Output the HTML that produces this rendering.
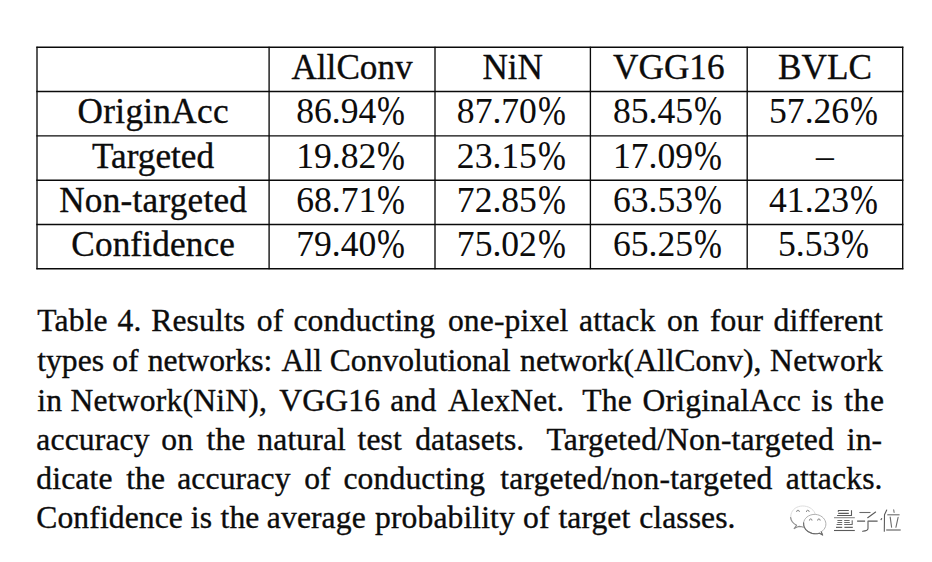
<!DOCTYPE html>
<html>
<head>
<meta charset="utf-8">
<style>
html,body{margin:0;padding:0;background:#fff;}
body{width:932px;height:562px;position:relative;overflow:hidden;font-family:"Liberation Serif",serif;color:#0c0c0c;-webkit-text-stroke:0.35px #0c0c0c;}
.c{position:absolute;text-align:center;white-space:nowrap;font-size:35.20px;line-height:44.00px;height:44.00px;}
.d{font-size:35.60px;-webkit-text-stroke-width:0.06px;}
.p{display:inline-block;transform-origin:50% 21.9px;transform:translateY(-0.4px) scale(0.94,1.21);}
.cap{position:absolute;left:0;width:932px;font-size:31.60px;line-height:39.40px;height:39.40px;white-space:nowrap;}
.cap .w{position:absolute;top:0;}
</style>
</head>
<body>
<svg style="position:absolute;left:0;top:0" width="932" height="300" viewBox="0 0 932 300" stroke="#0a0a0a" stroke-width="1.35" fill="none">
<line x1="36.33" y1="47.20" x2="903.38" y2="47.20"/>
<line x1="36.33" y1="91.50" x2="903.38" y2="91.50"/>
<line x1="36.33" y1="135.85" x2="903.38" y2="135.85"/>
<line x1="36.33" y1="180.20" x2="903.38" y2="180.20"/>
<line x1="36.33" y1="224.45" x2="903.38" y2="224.45"/>
<line x1="36.33" y1="268.70" x2="903.38" y2="268.70"/>
<line x1="37.00" y1="46.73" x2="37.00" y2="269.18"/>
<line x1="269.10" y1="46.73" x2="269.10" y2="269.18"/>
<line x1="435.00" y1="46.73" x2="435.00" y2="269.18"/>
<line x1="590.40" y1="46.73" x2="590.40" y2="269.18"/>
<line x1="747.20" y1="46.73" x2="747.20" y2="269.18"/>
<line x1="902.70" y1="46.73" x2="902.70" y2="269.18"/>
</svg>
<div class="c" style="left:269.10px;width:165.90px;top:46.00px">AllConv</div>
<div class="c" style="left:435.00px;width:155.40px;top:46.00px">NiN</div>
<div class="c" style="left:590.40px;width:156.80px;top:46.00px">VGG16</div>
<div class="c" style="left:747.20px;width:155.50px;top:46.00px">BVLC</div>
<div class="c" style="left:37.00px;width:232.10px;top:90.00px;letter-spacing:0.30px;text-indent:0.30px">OriginAcc</div>
<div class="c d" style="left:268.10px;width:165.90px;top:89.00px">86.94<span class="p">%</span></div>
<div class="c d" style="left:434.00px;width:155.40px;top:89.00px">87.70<span class="p">%</span></div>
<div class="c d" style="left:589.40px;width:156.80px;top:89.00px">85.45<span class="p">%</span></div>
<div class="c d" style="left:746.20px;width:155.50px;top:89.00px">57.26<span class="p">%</span></div>
<div class="c" style="left:37.00px;width:232.10px;top:135.00px">Targeted</div>
<div class="c d" style="left:268.10px;width:165.90px;top:134.00px">19.82<span class="p">%</span></div>
<div class="c d" style="left:434.00px;width:155.40px;top:134.00px">23.15<span class="p">%</span></div>
<div class="c d" style="left:589.40px;width:156.80px;top:134.00px">17.09<span class="p">%</span></div>
<div class="c d" style="left:747.20px;width:155.50px;top:134.00px">–</div>
<div class="c" style="left:37.00px;width:232.10px;top:179.00px;letter-spacing:0.25px;text-indent:0.25px">Non-targeted</div>
<div class="c d" style="left:268.10px;width:165.90px;top:178.00px">68.71<span class="p">%</span></div>
<div class="c d" style="left:434.00px;width:155.40px;top:178.00px">72.85<span class="p">%</span></div>
<div class="c d" style="left:589.40px;width:156.80px;top:178.00px">63.53<span class="p">%</span></div>
<div class="c d" style="left:746.20px;width:155.50px;top:178.00px">41.23<span class="p">%</span></div>
<div class="c" style="left:37.00px;width:232.10px;top:223.00px;letter-spacing:0.15px;text-indent:0.15px">Confidence</div>
<div class="c d" style="left:268.10px;width:165.90px;top:222.00px">79.40<span class="p">%</span></div>
<div class="c d" style="left:434.00px;width:155.40px;top:222.00px">75.02<span class="p">%</span></div>
<div class="c d" style="left:589.40px;width:156.80px;top:222.00px">65.25<span class="p">%</span></div>
<div class="c d" style="left:746.20px;width:155.50px;top:222.00px">5.53<span class="p">%</span></div>
<div class="cap" style="top:301.00px"><span class="w" style="left:37.30px;letter-spacing:0.15px">Table</span> <span class="w" style="left:117.53px;letter-spacing:0.15px">4.</span> <span class="w" style="left:151.18px;letter-spacing:0.15px">Results</span> <span class="w" style="left:256.83px;letter-spacing:0.15px">of</span> <span class="w" style="left:293.38px;letter-spacing:0.15px">conducting</span> <span class="w" style="left:447.88px;letter-spacing:0.15px">one-pixel</span> <span class="w" style="left:579.06px;letter-spacing:0.15px">attack</span> <span class="w" style="left:666.98px;letter-spacing:0.15px">on</span> <span class="w" style="left:709.92px;letter-spacing:0.15px">four</span> <span class="w" style="left:773.49px;letter-spacing:0.15px">different</span></div>
<div class="cap" style="top:341.00px"><span class="w" style="left:37.30px;letter-spacing:0.00px">types</span> <span class="w" style="left:112.25px;letter-spacing:0.00px">of</span> <span class="w" style="left:147.74px;letter-spacing:0.00px">networks:</span> <span class="w" style="left:281.60px;letter-spacing:0.00px">All</span> <span class="w" style="left:329.80px;letter-spacing:0.00px">Convolutional</span> <span class="w" style="left:520.10px;letter-spacing:0.00px">network(AllConv),</span> <span class="w" style="left:769.95px;letter-spacing:0.40px">Network</span></div>
<div class="cap" style="top:381.00px"><span class="w" style="left:37.30px;letter-spacing:0.20px">in</span> <span class="w" style="left:70.60px;letter-spacing:0.20px">Network(NiN),</span> <span class="w" style="left:279.13px;letter-spacing:0.20px">VGG16</span> <span class="w" style="left:390.24px;letter-spacing:0.20px">and</span> <span class="w" style="left:447.94px;letter-spacing:0.20px">AlexNet.</span> <span class="w" style="left:582.30px;letter-spacing:0.20px">The</span> <span class="w" style="left:642.59px;letter-spacing:0.20px">OriginalAcc</span> <span class="w" style="left:811.41px;letter-spacing:0.20px">is</span> <span class="w" style="left:844.13px;letter-spacing:0.70px">the</span></div>
<div class="cap" style="top:420.00px"><span class="w" style="left:36.30px;letter-spacing:0.15px">accuracy</span> <span class="w" style="left:161.23px;letter-spacing:0.15px">on</span> <span class="w" style="left:206.51px;letter-spacing:0.15px">the</span> <span class="w" style="left:257.28px;letter-spacing:0.15px">natural</span> <span class="w" style="left:357.48px;letter-spacing:0.15px">test</span> <span class="w" style="left:415.14px;letter-spacing:0.15px">datasets.</span> <span class="w" style="left:546.47px;letter-spacing:0.15px">Targeted/Non-targeted</span> <span class="w" style="left:846.73px;letter-spacing:0.15px">in-</span></div>
<div class="cap" style="top:459.00px"><span class="w" style="left:36.30px;letter-spacing:0.15px">dicate</span> <span class="w" style="left:126.16px;letter-spacing:0.15px">the</span> <span class="w" style="left:177.16px;letter-spacing:0.15px">accuracy</span> <span class="w" style="left:304.13px;letter-spacing:0.15px">of</span> <span class="w" style="left:343.38px;letter-spacing:0.15px">conducting</span> <span class="w" style="left:500.34px;letter-spacing:0.15px">targeted/non-targeted</span> <span class="w" style="left:785.83px;letter-spacing:0.15px">attacks.</span></div>
<div class="cap" style="top:498.00px"><span class="w" style="left:36.30px;letter-spacing:0.10px">Confidence</span> <span class="w" style="left:190.86px;letter-spacing:0.10px">is</span> <span class="w" style="left:220.51px;letter-spacing:0.10px">the</span> <span class="w" style="left:266.86px;letter-spacing:0.10px">average</span> <span class="w" style="left:375.08px;letter-spacing:0.10px">probability</span> <span class="w" style="left:523.00px;letter-spacing:0.10px">of</span> <span class="w" style="left:558.41px;letter-spacing:0.10px">target</span> <span class="w" style="left:639.18px;letter-spacing:0.10px">classes.</span></div>
<svg style="position:absolute;left:780px;top:495px" width="140" height="50" viewBox="780 495 140 50" fill="none" stroke-linecap="round" stroke-linejoin="round">
<!-- back bubble -->
<path d="M794.2 528.6 L796.6 525.2 C791.5 522.2 789.6 517.2 791.6 512.6 C793.6 507.9 799 505.4 804.6 506.1 C810 506.8 814.3 510 815.3 514.3" stroke="#dedede" stroke-width="1"/>
<path d="M790.6 517.5 C790.9 520.6 792.9 523.4 796.6 525.3 L794.2 528.6 C796.2 527.4 797.8 526.5 799.2 526.4 C800.6 526.5 802 527 803.4 527.2" stroke="#8a8a8a" stroke-width="1.1"/>
<path d="M796.6 511.6 a1.4 1.4 0 0 1 2.8 0 M806.4 511.6 a1.4 1.4 0 0 1 2.8 0" stroke="#8e8e8e" stroke-width="1"/>
<!-- front bubble -->
<path d="M822.6 534.9 L821.2 531.8 C825.6 529 826.9 524.5 825.1 520.6 C823.3 516.6 818.8 514.2 814 514.4 C808.6 514.7 804.2 518.2 803.6 522.8 C803 527.6 806.6 532 812 533.4 C814.6 534 817.2 533.9 819.4 533.2 Z" fill="#fff" stroke="#b0b0b0" stroke-width="1"/>
<path d="M803.6 522.8 C803 527.6 806.6 532 812 533.4 C814.6 534 817.2 533.9 819.4 533.2 L822.6 534.9 L821.2 531.8" stroke="#6a6a6a" stroke-width="1.1"/>
<path d="M809.4 520.2 a1.3 1.3 0 0 1 2.6 0 M817.6 520.2 a1.3 1.3 0 0 1 2.6 0" stroke="#808080" stroke-width="1"/>
<!-- text shadow strokes: 量 -->
<g stroke="#5a5a5a" stroke-width="1.1" stroke-linecap="butt">
<path d="M838 510.5 H848.8 M838.3 510.5 V511.8 M838.2 513.4 H848.8 M837.1 515.5 H851.9 M851.5 510.2 V515.5"/>
<path d="M834 517.7 H854.8" stroke="#8a8a8a"/>
<path d="M837.4 520.5 H842.2 M844.2 520.5 H849.6 M837.4 522.5 H842.2 M844.2 522.5 H849.8 M836.6 524.5 H842.2 M844.2 524.5 H852.6 M852.2 520.2 V524.5" stroke="#6a6a6a"/>
<path d="M836 527.4 H842.2 M844.4 527.4 H852.8" stroke="#666"/>
<path d="M834 530.5 H854.8"/>
<!-- 子 -->
<path d="M859.4 512.5 H870.5" stroke="#6a6a6a"/>
<path d="M875.6 512 L867.7 517.7" stroke-linecap="round"/>
<path d="M857.1 521.1 H865.1 M868.2 521.1 H877.6"/>
<path d="M868 521.1 V528.6 C868 530.3 866 531.1 862.6 531.2" stroke-linecap="round"/>
<!-- 位 -->
<path d="M886.7 510 L884.5 514.8 L884.3 531.2" stroke-linecap="round"/>
<path d="M881.7 518.6 L881 519.6" stroke-linecap="round"/>
<path d="M893.7 509.8 L894.1 512.4" stroke="#777" stroke-linecap="round"/>
<path d="M887.3 514.8 H899.6" stroke="#6a6a6a"/>
<path d="M890.2 517.1 L891.6 527.3 M898.1 517.4 L895.9 527.3" stroke="#6a6a6a" stroke-linecap="round"/>
<path d="M886.2 530 H900.7"/>
</g>
</svg>
</body>
</html>
